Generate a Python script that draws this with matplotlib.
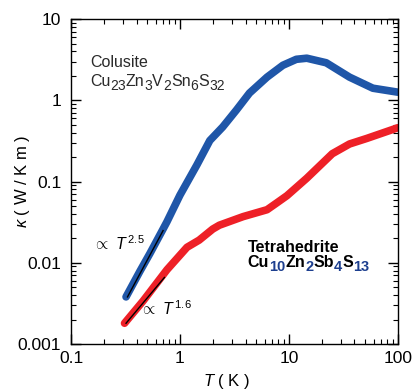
import numpy as np
import matplotlib.pyplot as plt
from matplotlib.ticker import LogLocator, FuncFormatter, NullFormatter

plt.rcParams['font.family'] = ['Liberation Sans', 'DejaVu Sans']
plt.rcParams['mathtext.fontset'] = 'custom'
plt.rcParams['mathtext.rm'] = 'Liberation Sans'
plt.rcParams['mathtext.it'] = 'Liberation Sans:italic'
plt.rcParams['mathtext.bf'] = 'Liberation Sans:bold'

# Colusite Cu23Zn3V2Sn6S32
T_col = [0.32, 0.43, 0.53, 0.70, 0.76, 1.0, 1.43, 1.88, 2.47, 3.3, 4.35, 6.3, 8.8,
         11.7, 14.6, 22, 36, 59, 100]
k_col = [0.0038, 0.0079, 0.013, 0.026, 0.032, 0.068, 0.16, 0.32, 0.47, 0.76, 1.23, 1.93, 2.7,
         3.2, 3.3, 2.9, 1.93, 1.41, 1.26]

# Tetrahedrite Cu10Zn2Sb4S13
T_tet = [0.31, 0.46, 0.76, 1.16, 1.5, 2.0, 2.3, 3.8, 6.3, 7.8, 9.6, 14.6, 25, 36, 52, 100]
k_tet = [0.0018, 0.0034, 0.0082, 0.0155, 0.019, 0.026, 0.029, 0.037, 0.045, 0.055, 0.067,
         0.11, 0.22, 0.29, 0.34, 0.46]

# power-law fits at low T
fit_col_T = [0.33, 0.70]
fit_col_k = [0.0038, 0.0038 * (0.70 / 0.33) ** 2.5]
fit_tet_T = [0.32, 0.72]
fit_tet_k = [0.0018, 0.0018 * (0.72 / 0.32) ** 1.6]

col_formula = [('Cu', '23'), ('Zn', '3'), ('V', '2'), ('Sn', '6'), ('S', '32')]
tet_formula = [('Cu', '10'), ('Zn', '2'), ('Sb', '4'), ('S', '13')]

blue = '#1f56a8'
red = '#ee2027'


def formula(ax, x, y, parts, size, sub_size, weight='normal', color='black', sub_color='black'):
    # chemical formula drawn piece by piece so subscripts can have their own size/colour
    first = ax.text(x, y, parts[0][0], transform=ax.transAxes, fontsize=size,
                    fontweight=weight, color=color, va='baseline')
    prev = first
    for i, (el, n) in enumerate(parts):
        if i > 0:
            prev = ax.annotate(el, xy=(1, 0), xycoords=(prev, first), va='bottom',
                               fontsize=size, fontweight=weight, color=color)
        prev = ax.annotate(n, xy=(1, 0), xycoords=(prev, first), xytext=(0, -3),
                           textcoords='offset points', va='bottom', fontsize=sub_size,
                           fontweight=weight, color=sub_color)


fig = plt.figure(figsize=(4.14, 3.90), dpi=100)
ax = fig.add_axes([0.1715, 0.118, 0.7895, 0.833])

ax.plot(T_col, k_col, color=blue, lw=5.5, solid_capstyle='round', solid_joinstyle='round')
ax.plot(T_tet, k_tet, color=red, lw=5.5, solid_capstyle='round', solid_joinstyle='round')
ax.plot(fit_col_T, fit_col_k, color='black', lw=1.0)
ax.plot(fit_tet_T, fit_tet_k, color='black', lw=1.0)

ax.set_xscale('log')
ax.set_yscale('log')
ax.set_xlim(0.1, 100)
ax.set_ylim(0.001, 10)

fmt = FuncFormatter(lambda v, p: '%g' % v)
ax.xaxis.set_major_formatter(fmt)
ax.yaxis.set_major_formatter(fmt)
ax.xaxis.set_minor_locator(LogLocator(base=10, subs=np.arange(2, 10)))
ax.yaxis.set_minor_locator(LogLocator(base=10, subs=np.arange(2, 10)))
ax.xaxis.set_minor_formatter(NullFormatter())
ax.yaxis.set_minor_formatter(NullFormatter())
ax.tick_params(which='both', direction='in', top=True, right=True, labelsize=12.5)
ax.tick_params(which='major', length=7, width=1)
ax.tick_params(which='minor', length=3.5, width=0.8)
ax.tick_params(axis='x', pad=5)
ax.tick_params(axis='y', pad=7)
for s in ax.spines.values():
    s.set_linewidth(1.0)

ax.set_xlabel(r'$\mathit{T}$ ( K )', fontsize=12)
ax.set_ylabel(r'$\kappa$ ( W / K m )', fontsize=12)
ax.xaxis.set_label_coords(0.477, -0.085)
ax.yaxis.set_label_coords(-0.12, 0.5)

ax.text(0.058, 0.852, 'Colusite', transform=ax.transAxes, fontsize=11.5, color='#2a2a2a',
        va='baseline')
formula(ax, 0.058, 0.794, col_formula, 11.5, 10, color='#2a2a2a', sub_color='#2a2a2a')

ax.text(0.541, 0.283, 'Tetrahedrite', transform=ax.transAxes, fontsize=11.5,
        fontweight='bold', va='baseline')
formula(ax, 0.541, 0.237, tet_formula, 11.5, 10.5, weight='bold', sub_color='#1d3f8f')

ax.text(0.067, 0.289, r'$\propto\ \mathit{T}^{\,2.5}$', transform=ax.transAxes, fontsize=11.5,
        va='baseline')
ax.text(0.21, 0.089, r'$\propto\ \mathit{T}^{\,1.6}$', transform=ax.transAxes, fontsize=11.5,
        va='baseline')

fig.savefig('out.png', dpi=100)
